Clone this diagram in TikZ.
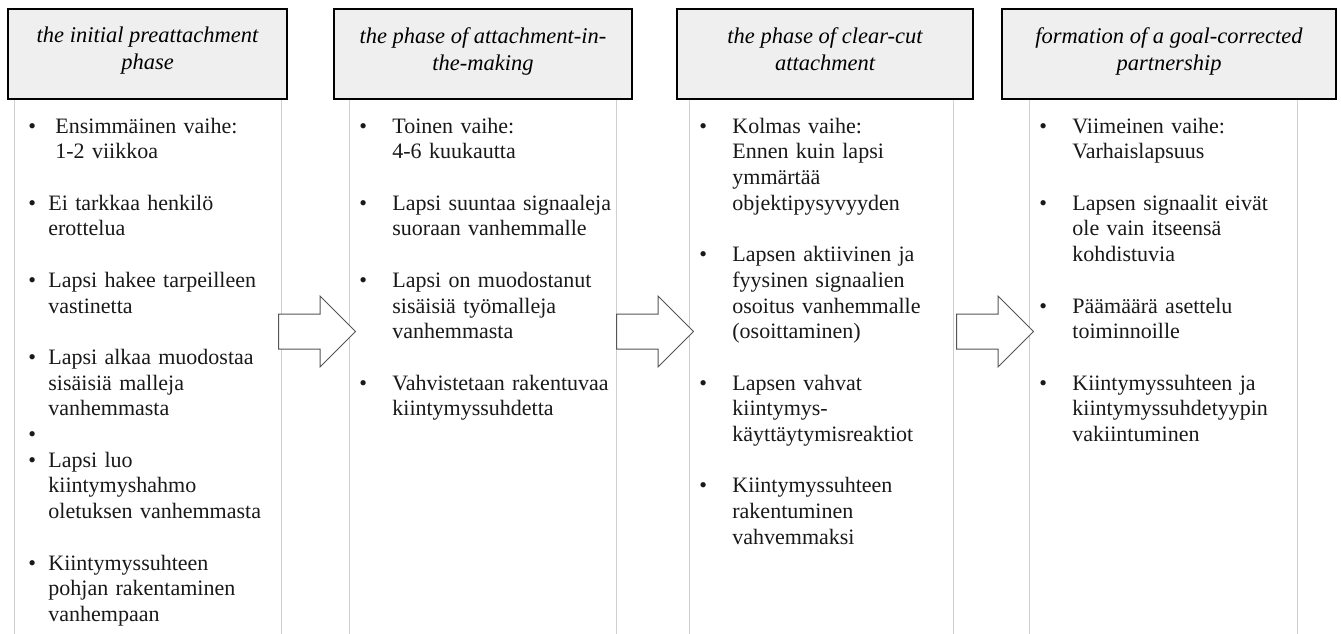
\documentclass[tikz,border=0pt]{standalone}
\usepackage{fontspec}
\setmainfont{Liberation Serif}
\usetikzlibrary{shapes.arrows}
\definecolor{headgray}{RGB}{239,239,239}
\definecolor{colline}{RGB}{208,208,208}
\definecolor{arrline}{RGB}{85,85,85}
\newlength{\txtind}
\newcommand{\itm}[1]{\par\hangindent=\txtind\hangafter=1\noindent\makebox[\txtind][l]{\textbullet}\strut#1\par}
\newcommand{\gap}{\vspace{\baselineskip}}

\begin{document}
\begin{tikzpicture}[
        x=0.5pt, y=-0.5pt,
        head/.style={rectangle, draw=black, line width=1.2pt, fill=headgray, minimum height=45pt, align=center, font=\fontsize{11.25}{13.5}\selectfont\itshape, execute at end node={\rule[-5.4pt]{0pt}{5.4pt}}},
        colbox/.style={rectangle, draw=colline, line width=0.5pt, minimum height=280pt},
        pts/.style={anchor=north west, inner sep=0pt, text width=130pt, align=left, font=\fontsize{11}{12.85}\selectfont, text=black!90},
        bigarrow/.style={single arrow, anchor=tail, draw=arrline, fill=white, line width=0.5pt, minimum height=38.5pt, inner xsep=0pt, inner ysep=8.5pt, single arrow head extend=9pt}
    ]
        \clip (0,0) rectangle (1341,633);
        \fill[white] (0,0) rectangle (1341,633);

        % Columns
        \node[colbox, minimum width=133.5pt] (b1) at (147.5,370) {};
        \node[colbox, minimum width=133.5pt] (b2) at (482.5,370) {};
        \node[colbox, minimum width=132pt] (b3) at (821,370) {};
        \node[colbox, minimum width=134pt] (b4) at (1163,370) {};

        % Phase headers
        \node[head, minimum width=139.5pt] (h1) at (147.5,54) {the initial preattachment\\phase};
        \node[head, minimum width=149pt] (h2) at (483,54) {the phase of attachment-in-\\the-making};
        \node[head, minimum width=148pt] (h3) at (825,54) {the phase of clear-cut\\attachment};
        \node[head, minimum width=167pt] (h4) at (1169,54) {formation of a goal-corrected\\partnership};

        % Phase contents
        \node[pts] (t1) at (28,107) {\setlength{\txtind}{10pt}
            {\setlength{\txtind}{13.5pt}\itm{Ensimmäinen vaihe:\newline 1-2 viikkoa}}\gap
            \itm{Ei tarkkaa henkilö\newline erottelua}\gap
            \itm{Lapsi hakee tarpeilleen\newline vastinetta}\gap
            \itm{Lapsi alkaa muodostaa\newline sisäisiä malleja\newline vanhemmasta}
            \itm{}
            \itm{Lapsi luo\newline kiintymyshahmo\newline oletuksen vanhemmasta}\gap
            \itm{Kiintymyssuhteen\newline pohjan rakentaminen\newline vanhempaan}};
        \node[pts] (t2) at (359,107) {\setlength{\txtind}{16.5pt}
            \itm{Toinen vaihe:\newline 4-6 kuukautta}\gap
            \itm{Lapsi suuntaa signaaleja\newline suoraan vanhemmalle}\gap
            \itm{Lapsi on muodostanut\newline sisäisiä työmalleja\newline vanhemmasta}\gap
            \itm{Vahvistetaan rakentuvaa\newline kiintymyssuhdetta}};
        \node[pts] (t3) at (699,107) {\setlength{\txtind}{16.5pt}
            \itm{Kolmas vaihe:\newline Ennen kuin lapsi\newline ymmärtää\newline objektipysyvyyden}\gap
            \itm{Lapsen aktiivinen ja\newline fyysinen signaalien\newline osoitus vanhemmalle\newline (osoittaminen)}\gap
            \itm{Lapsen vahvat\newline kiintymys-\newline käyttäytymisreaktiot}\gap
            \itm{Kiintymyssuhteen\newline rakentuminen\newline vahvemmaksi}};
        \node[pts] (t4) at (1039,107) {\setlength{\txtind}{16.5pt}
            \itm{Viimeinen vaihe:\newline Varhaislapsuus}\gap
            \itm{Lapsen signaalit eivät\newline ole vain itseensä\newline kohdistuvia}\gap
            \itm{Päämäärä asettelu\newline toiminnoille}\gap
            \itm{Kiintymyssuhteen ja\newline kiintymyssuhdetyypin\newline vakiintuminen}};

        % Arrows
        \node[bigarrow] (a1) at (278,331.5) {};
        \node[bigarrow] (a2) at (616,331.5) {};
        \node[bigarrow] (a3) at (956,331.5) {};
    \end{tikzpicture}
\end{document}
